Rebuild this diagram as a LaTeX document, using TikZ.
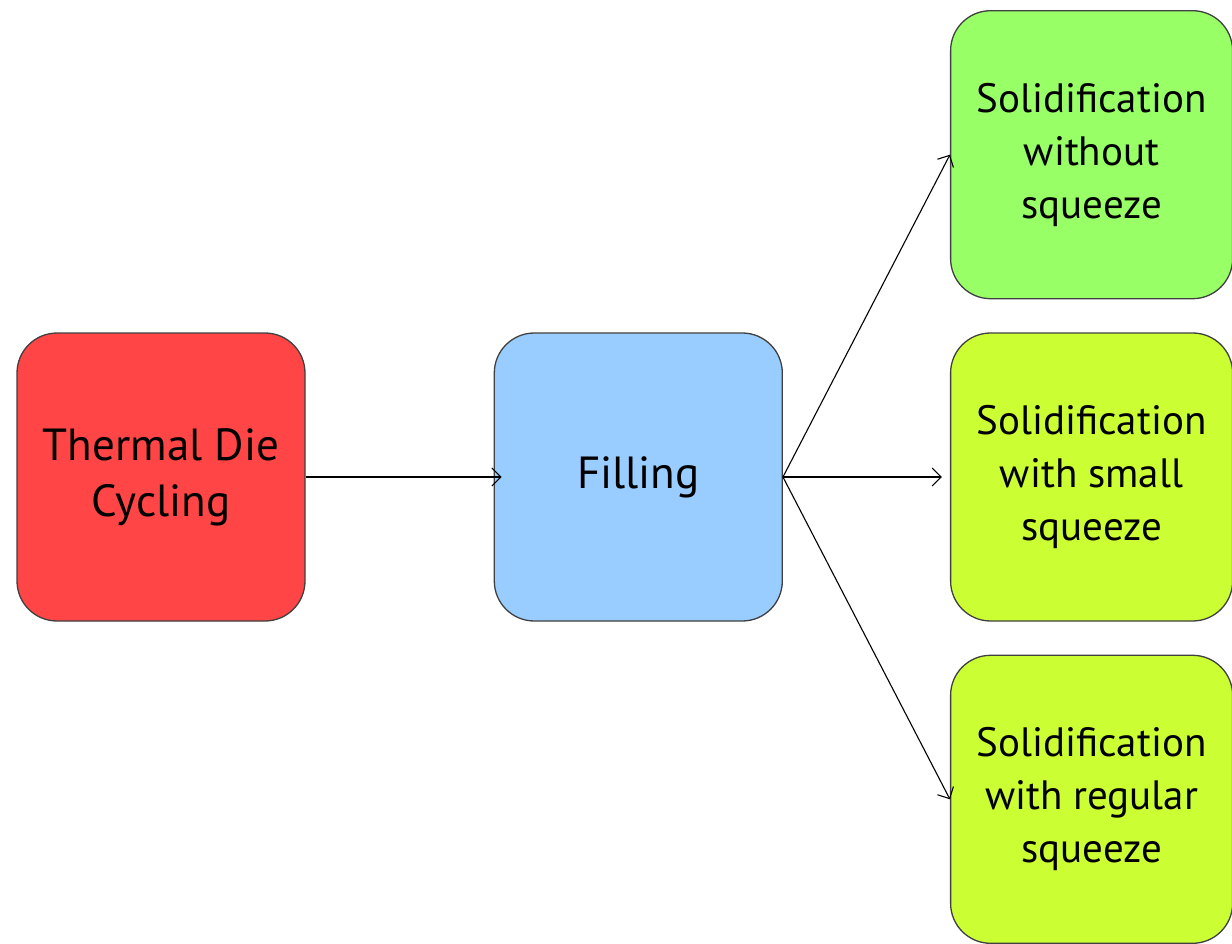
\documentclass[tikz,border=0pt]{standalone}
\usepackage{fontspec}
\setmainfont{PT Sans}
\usetikzlibrary{positioning,arrows.meta}
\definecolor{dierred}{HTML}{FF4545}
\definecolor{fillblue}{HTML}{99CCFF}
\definecolor{solidgreen}{HTML}{99FF66}
\definecolor{solidlime}{HTML}{CCFF33}

\begin{document}
\begin{tikzpicture}[x=1pt,y=1pt,
  stagebox/.style={draw=black!75, line width=1.3pt, rounded corners=40pt,
    minimum width=288pt, minimum height=288pt, align=center,
    font=\fontsize{45}{56}\selectfont},
  solidbox/.style={stagebox, minimum width=282pt,
    font=\fontsize{41}{53}\selectfont},
  flow/.style={line width=1.1pt, -{Straight Barb[length=9pt,width=18pt]}}]
\useasboundingbox (0,0) rectangle (1232,-944);
\node(thermal)		[stagebox, fill=dierred] at (161,-477)
{Thermal Die\\Cycling};
\node(filling)		[stagebox, fill=fillblue, right = 188pt of thermal]
{Filling};
\node(small)		[solidbox, fill=solidlime, right = 167pt of filling]
{Solidification\\with small\\squeeze};
\node(without)		[solidbox, fill=solidgreen, above = 33pt of small]
{Solidification\\without\\squeeze};
\node(regular)		[solidbox, fill=solidlime, below = 33pt of small]
{Solidification\\with regular\\squeeze};

\draw[flow](thermal) -- ([xshift=8pt]filling.west);
\draw[flow](filling.east) -- (without.west);
\draw[flow](filling.east) -- ([xshift=-8pt]small.west);
\draw[flow](filling.east) -- (regular.west);
\end{tikzpicture}
\end{document}
